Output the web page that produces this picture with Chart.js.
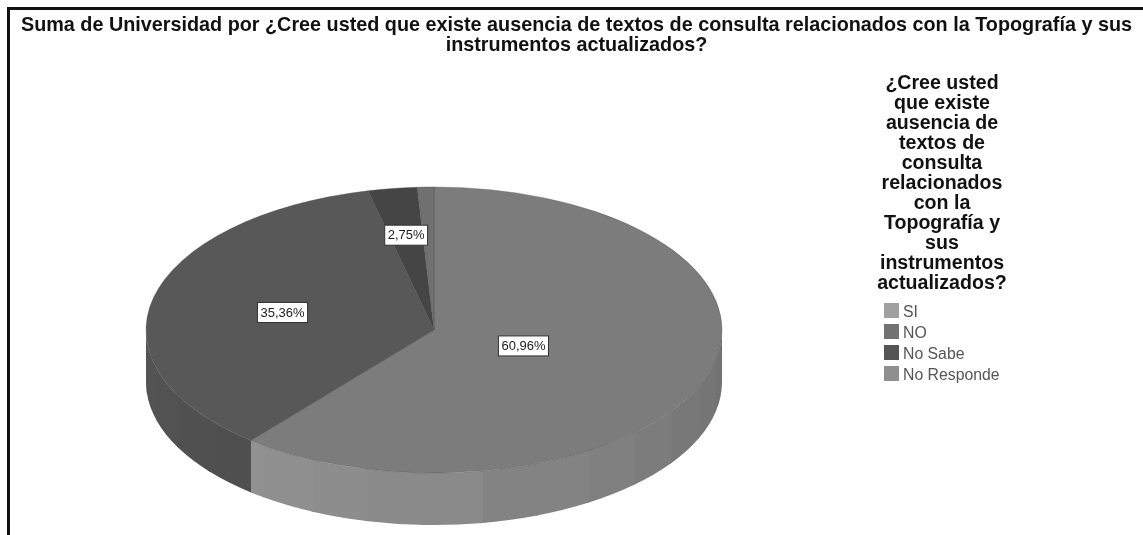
<!DOCTYPE html>
<html>
<head>
<meta charset="utf-8">
<script src="https://cdn.jsdelivr.net/npm/chart.js@4"></script>
<style>
    html, body { margin: 0; padding: 0; background: #fff; overflow: hidden; }
    #marco { position: relative; width: 1143px; height: 535px; overflow: hidden; }
    #marco canvas { position: absolute; left: 0; top: 0; }
    #borde { position: absolute; left: 7px; top: 7px; width: 1200px; height: 600px; border: 3px solid #111; }
    #leyenda { position: absolute; left: 852px; top: 72px; width: 180px; font-family: "Liberation Sans", Arial, sans-serif; }
    #leyenda h2 { margin: 0 0 9px 0; font-size: 19.6px; line-height: 20px; font-weight: bold; text-align: center; color: #111; }
    #leyenda div { position: relative; height: 21px; line-height: 21px; padding-left: 51px; font-size: 15.8px; color: #555; }
    #leyenda i { position: absolute; left: 32px; top: 2px; width: 15px; height: 15px; }
</style>
</head>
<body>
<div id="marco">
    <div id="borde"></div>
    <canvas id="grafico" width="1143" height="535"></canvas>
    <div id="leyenda"></div>
</div>
<script>
const tituloLineas = [
    "Suma de Universidad por ¿Cree usted que existe ausencia de textos de consulta relacionados con la Topografía y sus",
    "instrumentos actualizados?"
]
const tituloLeyenda = ["¿Cree usted", "que existe", "ausencia de", "textos de", "consulta", "relacionados", "con la", "Topografía y", "sus", "instrumentos", "actualizados?"]
const categorias = ["SI", "NO", "No Sabe", "No Responde"]
const valores = [60.96, 35.36, 2.75, 0.93]
const etiquetas = ["60,96%", "35,36%", "2,75%", null]
const colores = ["#7c7c7c", "#585858", "#454545", "#707070"]
const coloresLeyenda = ["#a0a0a0", "#727272", "#555555", "#8f8f8f"]
const radioEtiqueta = [0.33, 0.54, 0.67, 0]

// la torta es un circulo para Chart.js, aqui se aplasta a elipse
const centroX = 434, centroY = 330, radioX = 288, radioY = 143, grosor = 52

function aplastar(ctx, arco) {
    ctx.translate(centroX, centroY)
    ctx.scale(radioX / arco.outerRadius, radioY / arco.outerRadius)
    ctx.translate(-arco.x, -arco.y)
}

function puntoElipse(angulo, fraccion) {
    return {
        x: centroX + Math.cos(angulo) * radioX * fraccion,
        y: centroY + Math.sin(angulo) * radioY * fraccion
    }
}

function tonoPared(indice, angulo) {
    // bandas verticales como en el original
    const banda = Math.round(angulo / 0.2) * 0.2
    if (indice == 0) {
        const gris = Math.round(108 + 38 * Math.sin(banda * 0.5 + 0.3) * Math.sin(banda * 0.5 + 0.3))
        return `rgb(${gris},${gris},${gris})`
    }
    const gris = Math.round(78 + (banda - 2.2) * 6)
    return `rgb(${gris},${gris},${gris})`
}

const torta3d = {
    id: "torta3d",
    beforeDatasetsDraw(chart) {
        const ctx = chart.ctx
        chart.getDatasetMeta(0).data.forEach((arco, indice) => {
            const inicio = Math.max(arco.startAngle, 0)
            const fin = Math.min(arco.endAngle, Math.PI)
            for (let a = inicio; a < fin; a += 0.2) {
                const b = Math.min(a + 0.2, fin)
                const solape = b < fin ? 0.01 : 0
                ctx.save()
                ctx.beginPath()
                ctx.ellipse(centroX, centroY, radioX, radioY, 0, a, b + solape)
                ctx.lineTo(centroX + Math.cos(b + solape) * radioX, centroY + Math.sin(b + solape) * radioY + grosor)
                ctx.ellipse(centroX, centroY + grosor, radioX, radioY, 0, b + solape, a, true)
                ctx.closePath()
                ctx.fillStyle = tonoPared(indice, (a + b) / 2)
                ctx.fill()
                ctx.restore()
            }
        })
        ctx.save()
        aplastar(ctx, chart.getDatasetMeta(0).data[0])
    },
    afterDatasetsDraw(chart) {
        const ctx = chart.ctx
        ctx.restore()
        chart.getDatasetMeta(0).data.forEach((arco, indice) => {
            if (!etiquetas[indice]) return
            const medio = (arco.startAngle + arco.endAngle) / 2
            const p = puntoElipse(medio, radioEtiqueta[indice])
            ctx.save()
            ctx.font = "13px 'Liberation Sans', Arial, sans-serif"
            const ancho = ctx.measureText(etiquetas[indice]).width + 6
            ctx.fillStyle = "#fff"
            ctx.strokeStyle = "#333"
            ctx.lineWidth = 1
            ctx.fillRect(p.x - ancho / 2, p.y - 10, ancho, 20)
            ctx.strokeRect(p.x - ancho / 2, p.y - 10, ancho, 20)
            ctx.fillStyle = "#222"
            ctx.textAlign = "center"
            ctx.textBaseline = "middle"
            ctx.fillText(etiquetas[indice], p.x, p.y + 0.5)
            ctx.restore()
        })
    }
}

const leyenda = document.getElementById("leyenda")
leyenda.innerHTML = "<h2>" + tituloLeyenda.join("<br>") + "</h2>" +
    categorias.map((c, i) => `<div><i style="background:${coloresLeyenda[i]}"></i>${c}</div>`).join("")

new Chart(document.getElementById("grafico"), {
    type: "pie",
    data: {
        labels: categorias,
        datasets: [{
            data: valores,
            backgroundColor: colores,
            borderColor: "#505050",
            borderWidth: 0.4
        }]
    },
    options: {
        responsive: false,
        animation: false,
        layout: { padding: { top: 0, bottom: 10, left: 10, right: 0 } },
        plugins: {
            legend: { display: false },
            tooltip: { enabled: false },
            title: {
                display: true,
                text: tituloLineas,
                color: "#111",
                font: { family: "'Liberation Sans', Arial, sans-serif", size: 19.8, weight: "bold", lineHeight: 1.02 },
                padding: { top: 15, bottom: 0 }
            }
        }
    },
    plugins: [torta3d]
})
</script>
</body>
</html>
